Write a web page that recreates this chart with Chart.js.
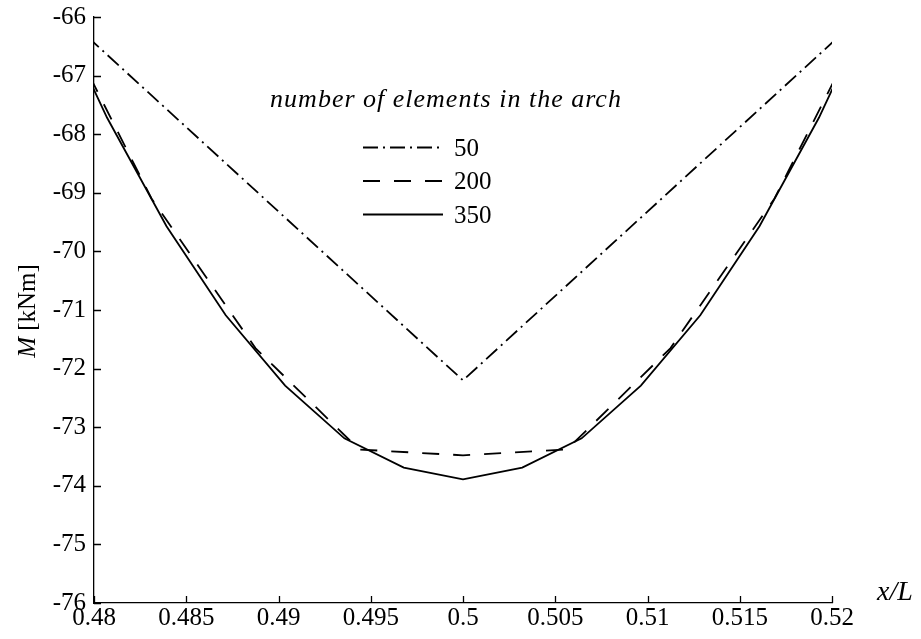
<!DOCTYPE html>
<html lang="en">
<head>
<meta charset="utf-8">
<title>Bending moment near the crown</title>
<script src="https://cdn.jsdelivr.net/npm/chart.js@4.4.1/dist/chart.umd.min.js"></script>
<style>
  html, body { margin: 0; padding: 0; background: #fff; }
  canvas { display: block; }
</style>
</head>
<body>
<canvas id="momentChart" width="921" height="639"></canvas>
<script>
// node positions x/L and moments M [kNm]
const x50 = [0.4775, 0.5, 0.5225];
const m50 = [-65.72, -72.2, -65.72];
const x200 = [0.4775, 0.48312, 0.48875, 0.49437, 0.5, 0.50563, 0.51125, 0.51688, 0.5225];
const m200 = [-65.6, -69.1, -71.65, -73.38, -73.48, -73.38, -71.65, -69.1, -65.6];
const x350 = [0.4775, 0.48071, 0.48393, 0.48714, 0.49036, 0.49357, 0.49679, 0.5,
              0.50321, 0.50643, 0.50964, 0.51286, 0.51607, 0.51929, 0.5225];
const m350 = [-65.57, -67.72, -69.57, -71.09, -72.29, -73.19, -73.69, -73.89,
              -73.69, -73.19, -72.29, -71.09, -69.57, -67.72, -65.57];
const seriesLabels = ['50', '200', '350'];
const legendTitle = 'number of elements in the arch';
const xTickValues = [0.48, 0.485, 0.49, 0.495, 0.5, 0.505, 0.51, 0.515, 0.52];
const xTickLabels = ['0.48', '0.485', '0.49', '0.495', '0.5', '0.505', '0.51', '0.515', '0.52'];
const yTickValues = [-66, -67, -68, -69, -70, -71, -72, -73, -74, -75, -76];
const yTickLabels = ['-66', '-67', '-68', '-69', '-70', '-71', '-72', '-73', '-74', '-75', '-76'];

const SERIF = '"Liberation Serif", "DejaVu Serif", serif';
const dashes = [[15, 5, 2, 5], [17, 14], []];

function pts(xs, ys) {
  return xs.map((x, i) => ({ x: x, y: ys[i] }));
}

// inward ticks, legend and axis titles
const decorations = {
  id: 'decorations',
  afterDatasetsDraw(chart) {
    const ctx = chart.ctx;
    const area = chart.chartArea;
    const xs = chart.scales.x, ys = chart.scales.y;
    ctx.save();
    ctx.strokeStyle = '#000';
    ctx.lineWidth = 1.3;
    ctx.setLineDash([]);
    ctx.beginPath();
    xTickValues.forEach(v => {
      const px = Math.round(xs.getPixelForValue(v)) + 0.5;
      ctx.moveTo(px, area.bottom);
      ctx.lineTo(px, area.bottom - 7);
    });
    yTickValues.forEach(v => {
      const py = Math.round(ys.getPixelForValue(v)) + 0.5;
      ctx.moveTo(area.left, py);
      ctx.lineTo(area.left + 7, py);
    });
    ctx.stroke();

    // legend
    ctx.fillStyle = '#000';
    ctx.font = 'italic 26px ' + SERIF;
    ctx.letterSpacing = '1px';
    ctx.textAlign = 'center';
    ctx.textBaseline = 'alphabetic';
    ctx.fillText(legendTitle, 446, 107);
    ctx.letterSpacing = '0px';
    ctx.textAlign = 'left';
    ctx.font = '25px ' + SERIF;
    seriesLabels.forEach((lab, i) => {
      const y = 147.5 + i * 33.5;
      ctx.setLineDash(dashes[i]);
      ctx.lineWidth = 1.8;
      ctx.beginPath();
      ctx.moveTo(363, y);
      ctx.lineTo(443, y);
      ctx.stroke();
      ctx.fillText(lab, 454, y + 8);
    });
    ctx.setLineDash([]);

    // y title: italic M + upright [kNm]
    ctx.save();
    ctx.translate(35, 311);
    ctx.rotate(-Math.PI / 2);
    ctx.font = 'italic 25px ' + SERIF;
    const wM = ctx.measureText('M ').width;
    ctx.font = '25px ' + SERIF;
    const wU = ctx.measureText('[kNm]').width;
    const start = -(wM + wU) / 2;
    ctx.font = 'italic 25px ' + SERIF;
    ctx.fillText('M ', start, 0);
    ctx.font = '25px ' + SERIF;
    ctx.fillText('[kNm]', start + wM, 0);
    ctx.restore();

    // x title
    ctx.font = 'italic 28px ' + SERIF;
    ctx.fillText('x/L', 877, 600);
    ctx.restore();
  }
};

new Chart(document.getElementById('momentChart'), {
  type: 'line',
  data: {
    datasets: [
      { label: seriesLabels[0], data: pts(x50, m50), borderDash: dashes[0], borderColor: '#000' },
      { label: seriesLabels[1], data: pts(x200, m200), borderDash: dashes[1], borderColor: '#000' },
      { label: seriesLabels[2], data: pts(x350, m350), borderDash: dashes[2], borderColor: '#000' }
    ]
  },
  options: {
    responsive: false,
    devicePixelRatio: 1,
    animation: false,
    datasets: {
      line: {
        borderWidth: 1.8,
        pointRadius: 0,
        tension: 0,
        fill: false
      }
    },
    layout: { padding: { top: 17, right: 89, bottom: 0, left: 0 } },
    plugins: {
      legend: { display: false },
      tooltip: { enabled: false }
    },
    scales: {
      x: {
        type: 'linear',
        min: 0.48,
        max: 0.52,
        afterFit: s => { s.height = 36; s.paddingLeft = 0; s.paddingRight = 0; },
        afterBuildTicks: s => { s.ticks = xTickValues.map(v => ({ value: v })); },
        grid: { display: false, drawTicks: false },
        border: { display: true, color: '#000', width: 1.3 },
        ticks: {
          color: '#000',
          padding: 3,
          maxRotation: 0,
          autoSkip: false,
          font: { family: SERIF, size: 25, lineHeight: 1 },
          callback: v => xTickLabels[xTickValues.indexOf(v)]
        }
      },
      y: {
        type: 'linear',
        min: -76,
        max: -66,
        afterFit: s => { s.width = 94; s.paddingTop = 0; s.paddingBottom = 0; },
        afterBuildTicks: s => { s.ticks = yTickValues.map(v => ({ value: v })); },
        grid: { display: false, drawTicks: false },
        border: { display: true, color: '#000', width: 1.3 },
        ticks: {
          color: '#000',
          padding: 8,
          autoSkip: false,
          font: { family: SERIF, size: 25, lineHeight: 1 },
          callback: v => yTickLabels[yTickValues.indexOf(v)]
        }
      }
    }
  },
  plugins: [decorations]
});
</script>
</body>
</html>
